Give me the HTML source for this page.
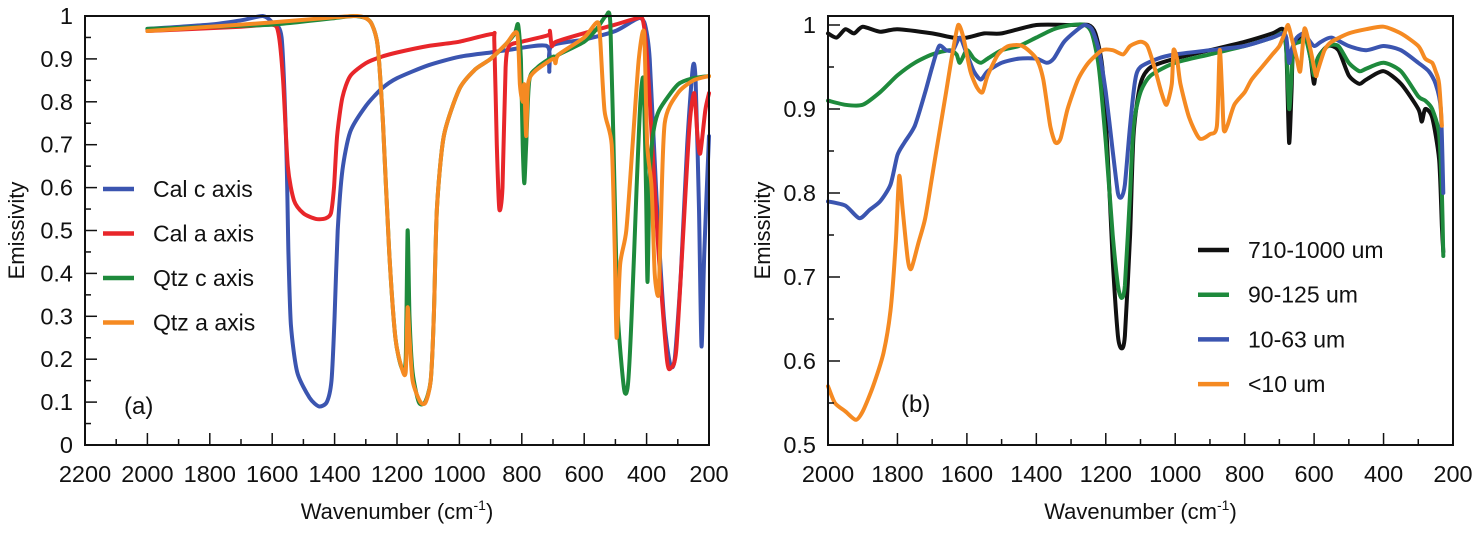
<!DOCTYPE html>
<html><head><meta charset="utf-8"><style>
html,body{margin:0;padding:0;background:#fff;}
svg{display:block;font-family:"Liberation Sans",Arial,sans-serif;}
</style></head><body>
<svg id="chart" width="1476" height="535" viewBox="0 0 1476 535" xmlns="http://www.w3.org/2000/svg">
<g id="pa"></g>
<g id="pb"></g>
</svg>
<script>
// ---------- Panel (a) data ----------
const calC = [[2000,0.97],[1800,0.98],[1700,0.99],[1630,1.0],[1600,0.985],[1570,0.95],[1555,0.7],[1548,0.45],[1540,0.28],[1520,0.17],[1480,0.11],[1450,0.09],[1425,0.1],[1410,0.15],[1400,0.3],[1390,0.5],[1375,0.64],[1350,0.73],[1300,0.79],[1250,0.83],[1200,0.855],[1100,0.885],[1000,0.905],[900,0.915],[850,0.92],[720,0.93],[712,0.87],[705,0.93],[600,0.945],[500,0.965],[440,0.99],[420,0.995],[405,0.98],[390,0.9],[370,0.6],[345,0.3],[325,0.19],[310,0.2],[290,0.4],[270,0.7],[252,0.88],[243,0.85],[232,0.55],[224,0.23],[215,0.45],[200,0.72]];
const calA = [[2000,0.965],[1700,0.975],[1600,0.98],[1580,0.96],[1565,0.85],[1550,0.65],[1530,0.57],[1500,0.54],[1460,0.527],[1430,0.528],[1412,0.54],[1402,0.6],[1392,0.72],[1375,0.81],[1350,0.86],[1300,0.89],[1250,0.905],[1200,0.915],[1100,0.93],[1000,0.94],[895,0.958],[888,0.94],[880,0.7],[872,0.55],[862,0.6],[852,0.88],[840,0.93],[800,0.94],[716,0.955],[710,0.965],[704,0.93],[690,0.94],[600,0.96],[500,0.98],[430,0.995],[412,0.99],[398,0.9],[382,0.7],[362,0.45],[335,0.2],[322,0.18],[305,0.22],[282,0.5],[262,0.75],[247,0.82],[237,0.72],[228,0.68],[212,0.78],[200,0.82]];
const qtzC = [[2000,0.97],[1800,0.975],[1600,0.98],[1400,0.995],[1340,1.0],[1300,0.995],[1280,0.98],[1262,0.93],[1245,0.75],[1225,0.45],[1205,0.25],[1185,0.18],[1172,0.2],[1166,0.5],[1160,0.3],[1150,0.17],[1130,0.1],[1110,0.1],[1092,0.15],[1082,0.3],[1072,0.55],[1050,0.72],[1000,0.83],[950,0.875],[900,0.9],[850,0.935],[822,0.96],[812,0.98],[803,0.9],[797,0.7],[792,0.61],[786,0.7],[776,0.85],[750,0.88],[700,0.905],[692,0.9],[682,0.91],[600,0.94],[560,0.97],[530,1.0],[516,0.98],[503,0.6],[492,0.3],[472,0.13],[460,0.14],[448,0.3],[432,0.6],[420,0.8],[410,0.85],[402,0.6],[397,0.38],[391,0.6],[380,0.72],[360,0.78],[300,0.84],[250,0.855],[200,0.86]];
const qtzA = [[2000,0.965],[1800,0.975],[1600,0.985],[1400,0.997],[1330,1.0],[1300,0.995],[1280,0.98],[1262,0.93],[1245,0.75],[1225,0.45],[1205,0.25],[1185,0.18],[1172,0.17],[1166,0.32],[1160,0.25],[1150,0.15],[1125,0.1],[1108,0.1],[1092,0.15],[1082,0.3],[1072,0.55],[1050,0.72],[1000,0.83],[950,0.875],[900,0.9],[850,0.935],[815,0.96],[806,0.84],[798,0.8],[792,0.84],[786,0.72],[780,0.84],[760,0.87],[700,0.9],[692,0.89],[682,0.91],[600,0.95],[560,0.985],[550,0.96],[535,0.78],[512,0.7],[502,0.45],[496,0.25],[485,0.42],[465,0.5],[445,0.7],[425,0.9],[408,0.96],[398,0.7],[384,0.6],[374,0.4],[362,0.35],[355,0.5],[342,0.75],[300,0.82],[250,0.85],[200,0.86]];
const seriesA = [calC, calA, qtzC, qtzA];
const namesA = ["Cal c axis","Cal a axis","Qtz c axis","Qtz a axis"];
const colorsA = ["#3b55b0","#e8262a","#1e8a3c","#f58a22"];
const xTicksA = [2200,2000,1800,1600,1400,1200,1000,800,600,400,200];
const yTicksA = [0,0.1,0.2,0.3,0.4,0.5,0.6,0.7,0.8,0.9,1];

// ---------- Panel (b) data ----------
const s710 = [[2000,0.99],[1975,0.985],[1950,0.995],[1925,0.99],[1900,0.998],[1850,0.992],[1800,0.995],[1700,0.99],[1640,0.985],[1600,0.985],[1550,0.99],[1500,0.99],[1400,1.0],[1300,1.0],[1250,1.0],[1230,0.99],[1210,0.95],[1195,0.85],[1180,0.72],[1165,0.63],[1155,0.615],[1145,0.63],[1130,0.75],[1120,0.87],[1100,0.93],[1070,0.95],[1000,0.96],[900,0.97],[800,0.98],[720,0.99],[690,0.995],[680,0.97],[672,0.86],[665,0.92],[660,0.975],[640,0.985],[625,0.99],[610,0.96],[600,0.93],[590,0.96],[560,0.975],[530,0.97],[500,0.94],[470,0.93],[450,0.935],[400,0.945],[350,0.93],[300,0.9],[290,0.885],[280,0.9],[260,0.89],[240,0.84],[232,0.76],[228,0.73]];
const s90 = [[2000,0.91],[1950,0.905],[1900,0.905],[1850,0.92],[1800,0.94],[1750,0.955],[1700,0.965],[1650,0.97],[1630,0.965],[1620,0.955],[1600,0.97],[1580,0.96],[1560,0.955],[1540,0.96],[1500,0.97],[1450,0.975],[1400,0.985],[1350,0.995],[1300,1.0],[1260,1.0],[1240,0.99],[1220,0.95],[1200,0.86],[1180,0.75],[1165,0.69],[1155,0.675],[1145,0.69],[1130,0.8],[1120,0.88],[1100,0.92],[1070,0.94],[1000,0.955],[900,0.965],[800,0.975],[720,0.985],[690,0.99],[680,0.97],[672,0.9],[665,0.94],[660,0.975],[640,0.98],[625,0.985],[610,0.96],[600,0.94],[590,0.96],[560,0.975],[530,0.975],[500,0.955],[470,0.945],[450,0.948],[400,0.955],[350,0.945],[300,0.915],[280,0.91],[260,0.9],[240,0.87],[232,0.8],[228,0.725]];
const s10 = [[2000,0.79],[1950,0.785],[1910,0.77],[1880,0.78],[1850,0.79],[1820,0.81],[1800,0.845],[1780,0.86],[1750,0.88],[1720,0.92],[1700,0.95],[1680,0.975],[1660,0.97],[1640,0.97],[1620,0.985],[1600,0.965],[1580,0.945],[1560,0.935],[1540,0.945],[1500,0.955],[1450,0.96],[1400,0.96],[1370,0.955],[1350,0.96],[1320,0.98],[1280,0.995],[1260,1.0],[1240,0.995],[1220,0.97],[1200,0.92],[1180,0.85],[1165,0.8],[1155,0.795],[1145,0.81],[1130,0.88],[1115,0.935],[1100,0.95],[1050,0.96],[1000,0.965],[900,0.97],[800,0.975],[720,0.985],[690,0.99],[680,0.985],[672,0.955],[665,0.97],[650,0.985],[630,0.99],[620,0.985],[600,0.975],[580,0.98],[550,0.985],[500,0.975],[450,0.97],[400,0.975],[350,0.97],[300,0.955],[270,0.945],[250,0.93],[235,0.9],[228,0.8]];
const s0 = [[2000,0.57],[1980,0.55],[1950,0.54],[1920,0.53],[1900,0.54],[1870,0.57],[1840,0.61],[1820,0.66],[1805,0.74],[1795,0.82],[1785,0.78],[1770,0.72],[1760,0.71],[1740,0.74],[1720,0.77],[1700,0.82],[1680,0.87],[1660,0.92],[1640,0.97],[1625,1.0],[1610,0.985],[1590,0.945],[1570,0.925],[1555,0.92],[1540,0.94],[1510,0.965],[1480,0.975],[1440,0.975],[1400,0.96],[1380,0.935],[1360,0.88],[1345,0.86],[1330,0.865],[1310,0.9],[1280,0.935],[1250,0.955],[1210,0.97],[1180,0.97],[1150,0.965],[1130,0.975],[1100,0.98],[1080,0.975],[1060,0.95],[1040,0.92],[1025,0.905],[1010,0.93],[1005,0.97],[995,0.96],[985,0.93],[960,0.89],[930,0.865],[900,0.87],[880,0.88],[872,0.97],[865,0.92],[860,0.875],[850,0.88],[830,0.905],[800,0.92],[780,0.935],[750,0.95],[720,0.965],[700,0.975],[685,0.99],[675,1.0],[665,0.985],[650,0.96],[640,0.945],[630,0.99],[625,0.995],[610,0.97],[595,0.94],[590,0.945],[570,0.97],[550,0.98],[500,0.99],[450,0.995],[400,0.998],[350,0.99],[300,0.975],[280,0.96],[260,0.955],[250,0.945],[240,0.93],[232,0.88]];
const seriesB = [s710, s90, s10, s0];
const namesB = ["710-1000 um","90-125 um","10-63 um","<10 um"];
const colorsB = ["#111111","#1e8a3c","#3b55b0","#f58a22"];
const xTicksB = [2000,1800,1600,1400,1200,1000,800,600,400,200];
const yTicksB = [0.5,0.6,0.7,0.8,0.9,1];

const NS = "http://www.w3.org/2000/svg";
function mk(parent, tag, attrs){const e=document.createElementNS(NS,tag);for(const k in attrs)e.setAttribute(k,attrs[k]);parent.appendChild(e);return e;}

function smoothPath(pts){
  let d = 'M' + pts[0][0].toFixed(1) + ',' + pts[0][1].toFixed(1);
  const k = 0.12;
  for(let i=0;i<pts.length-1;i++){
    const p0 = pts[Math.max(0,i-1)], p1 = pts[i], p2 = pts[i+1], p3 = pts[Math.min(pts.length-1,i+2)];
    const c1x = p1[0] + (p2[0]-p0[0])*k, c1y = p1[1] + (p2[1]-p0[1])*k;
    const c2x = p2[0] - (p3[0]-p1[0])*k, c2y = p2[1] - (p3[1]-p1[1])*k;
    d += ' C' + c1x.toFixed(1)+','+c1y.toFixed(1)+' '+c2x.toFixed(1)+','+c2y.toFixed(1)+' '+p2[0].toFixed(1)+','+p2[1].toFixed(1);
  }
  return d;
}

function panel(g, cfg){
  const {L,R,T,B,xmin,xmax,ymin,ymax,yTop} = cfg;
  const sx = w => L + (xmin - w)/(xmin - xmax)*(R-L);
  const sy = v => B - (v - ymin)/(ymax - ymin)*(B - yTop);
  cfg.series.forEach((s,i)=>{
    const p = mk(g,'path',{d:smoothPath(s.map(d=>[sx(d[0]),sy(d[1])])),fill:'none',stroke:cfg.colors[i],'stroke-width':4,'stroke-linejoin':'round','stroke-linecap':'round'});
    
    
  });
  const fr = mk(g,'rect',{x:L,y:T,width:R-L,height:B-T,fill:'none',stroke:'#111','stroke-width':2});
  
  
  cfg.xTicks.forEach((t,i)=>{
    const x = sx(t);
    mk(g,'line',{x1:x,y1:B,x2:x,y2:B-12,stroke:'#111','stroke-width':1.5});
    if(i<cfg.xTicks.length-1){const xm=sx(t-100);mk(g,'line',{x1:xm,y1:B,x2:xm,y2:B-6,stroke:'#111','stroke-width':1.5});}
    const tx = mk(g,'text',{x:x,y:B+37,'text-anchor':'middle','font-size':23.5,fill:'#111'});
    tx.textContent = t;
    
    
  });
  cfg.yTicks.forEach((t,i)=>{
    const y = sy(t);
    mk(g,'line',{x1:L,y1:y,x2:L+12,y2:y,stroke:'#111','stroke-width':1.5});
    if(i<cfg.yTicks.length-1){const ym=sy(t+cfg.minorY);mk(g,'line',{x1:L,y1:ym,x2:L+6,y2:ym,stroke:'#111','stroke-width':1.5});}
    const ty = mk(g,'text',{x:L-12,y:y+8,'text-anchor':'end','font-size':23.5,fill:'#111'});
    ty.textContent = (t===0||t===1)?String(t):t.toFixed(1);
    
    
  });
  const yt = mk(g,'text',{x:cfg.yTitleX,y:(T+B)/2,'text-anchor':'middle','font-size':22,fill:'#111',transform:`rotate(-90 ${cfg.yTitleX} ${(T+B)/2})`});
  yt.textContent = 'Emissivity';
  
  
  const xt = mk(g,'text',{x:(L+R)/2,y:B+74,'text-anchor':'middle','font-size':22,fill:'#111'});
  xt.innerHTML = 'Wavenumber (cm<tspan dy="-9" font-size="14">-1</tspan><tspan dy="9">)</tspan>';
  
  
  const pl = mk(g,'text',{x:cfg.lab[0],y:cfg.lab[1],'font-size':24,fill:'#111'});
  pl.textContent = cfg.label;
  
  
  cfg.names.forEach((n,i)=>{
    const y = cfg.leg[1] + i*cfg.leg[2];
    const le = mk(g,'g',{});
    
    
    mk(le,'line',{x1:cfg.leg[0],y1:y,x2:cfg.leg[0]+31,y2:y,stroke:cfg.colors[i],'stroke-width':4.5});
    const lt = mk(le,'text',{x:cfg.leg[0]+50,y:y+8,'font-size':23,fill:'#111'});
    lt.textContent = n;
  });
}

panel(document.getElementById('pa'),{L:85,R:709,T:16,B:445,xmin:2200,xmax:200,ymin:0,ymax:1,yTop:16,
  series:seriesA,colors:colorsA,names:namesA,xTicks:xTicksA,yTicks:yTicksA,minorY:0.05,
  yTitleX:24,label:'(a)',lab:[124,414],leg:[103,189,44.5]});
panel(document.getElementById('pb'),{L:828,R:1453,T:16,B:445,xmin:2000,xmax:200,ymin:0.5,ymax:1,yTop:25,
  series:seriesB,colors:colorsB,names:namesB,xTicks:xTicksB,yTicks:yTicksB,minorY:0.05,
  yTitleX:770,label:'(b)',lab:[901,412],leg:[1198,250,44.7]});
</script>
</body></html>
